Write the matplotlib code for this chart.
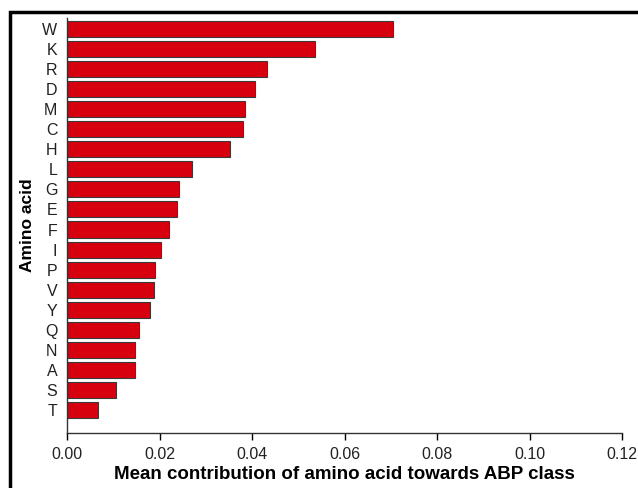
import matplotlib
matplotlib.use("Agg")
import matplotlib.pyplot as plt
from matplotlib.patches import Rectangle

amino_acids = ["W", "K", "R", "D", "M", "C", "H", "L", "G", "E",
               "F", "I", "P", "V", "Y", "Q", "N", "A", "S", "T"]
contribution = [0.0705, 0.0536, 0.0432, 0.0406, 0.0384, 0.0380, 0.0352, 0.0270, 0.0242, 0.0237,
                0.0221, 0.0204, 0.0191, 0.0189, 0.0180, 0.0155, 0.0148, 0.0147, 0.0106, 0.0068]
xticks = [0.00, 0.02, 0.04, 0.06, 0.08, 0.10, 0.12]

plt.rcParams['font.family'] = ['Liberation Sans', 'DejaVu Sans']

fig = plt.figure(figsize=(6.38, 4.88), dpi=100)
ax = fig.add_axes([67/638, 1 - 433/488, (622-67)/638, (433-18)/488])

n = len(amino_acids)
ypos = [n - 1 - i for i in range(n)]
ax.barh(ypos, contribution, height=0.8, color="#D7000F", edgecolor="#3a3a3a", linewidth=0.8)

ax.set_xlim(0, 0.12)
ax.set_ylim(-1.15, n - 1 + 0.55)
ax.set_xticks(xticks)
ax.set_xticklabels([f"{t:.2f}" for t in xticks], fontsize=11.5, color="#222222")
ax.set_yticks(ypos)
ax.set_yticklabels(amino_acids, fontsize=11.5, color="#222222")
ax.tick_params(axis='y', length=0, pad=7)
ax.tick_params(axis='x', length=5, width=1, direction='out', pad=5)
for s in ["top", "right"]:
    ax.spines[s].set_visible(False)
for s in ["left", "bottom"]:
    ax.spines[s].set_linewidth(1)
    ax.spines[s].set_color("#333333")

ax.set_xlabel("Mean contribution of amino acid towards ABP class", fontsize=13.5, fontweight="bold", labelpad=3)
ax.set_ylabel("Amino acid", fontsize=12.5, fontweight="bold", labelpad=5)

frame = Rectangle((10/638, -0.05), 1.1, 1 - 12/488 + 0.05, transform=fig.transFigure,
                  fill=False, edgecolor="black", linewidth=2.5, clip_on=False)
fig.patches.append(frame)

fig.savefig("out.png", dpi=100)
